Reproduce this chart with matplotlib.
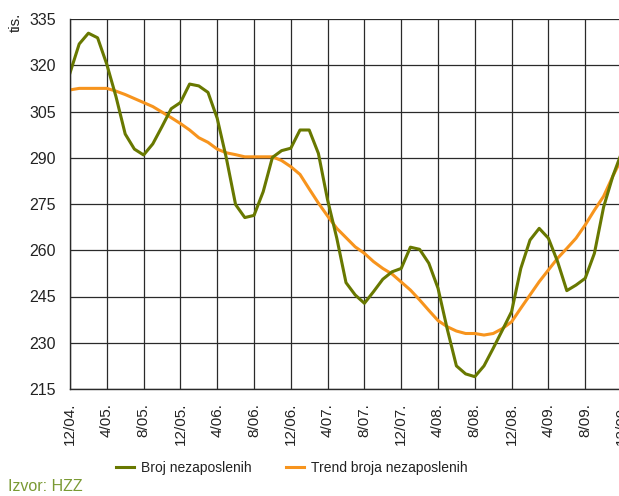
import matplotlib
matplotlib.use("Agg")
import matplotlib.pyplot as plt
from matplotlib.lines import Line2D

plt.rcParams['font.family'] = ['Liberation Sans', 'DejaVu Sans']

# monthly data, 12/2004 .. 12/2009 (thousands)
months = list(range(61))
tick_labels = ["12/04.", "4/05.", "8/05.", "12/05.", "4/06.", "8/06.", "12/06.", "4/07.",
               "8/07.", "12/07.", "4/08.", "8/08.", "12/08.", "4/09.", "8/09.", "12/09."]

broj = [317.5, 326.9, 330.4, 328.9, 320.3, 309.8, 297.7, 292.8, 290.9, 294.5,
        300.1, 305.9, 307.9, 313.9, 313.3, 311.2, 302.8, 289.8, 274.8, 270.6,
        271.3, 279.0, 290.1, 292.3, 293.1, 299.0, 299.0, 291.4, 276.3, 263.9,
        249.5, 245.5, 242.8, 246.6, 250.6, 253.0, 254.1, 261.0, 260.3, 255.8,
        247.7, 234.5, 222.5, 219.9, 219.0, 222.5, 228.2, 234.1, 240.1, 254.1,
        263.3, 267.1, 263.9, 256.3, 246.9, 248.7, 250.9, 259.0, 274.0, 284.0,
        292.0]

trend = [312.0, 312.5, 312.5, 312.5, 312.5, 311.6, 310.5, 309.2, 307.9, 306.6,
         304.8, 303.0, 301.1, 299.0, 296.5, 295.0, 292.8, 291.6, 291.0, 290.3,
         290.3, 290.3, 290.3, 289.1, 287.1, 284.6, 279.9, 275.3, 271.1, 267.1,
         264.1, 261.1, 259.0, 256.3, 254.1, 252.3, 249.7, 247.1, 243.9, 240.5,
         237.2, 235.2, 233.8, 233.0, 233.0, 232.5, 233.0, 234.6, 236.8, 241.2,
         245.5, 249.8, 253.6, 257.4, 260.6, 263.9, 268.2, 273.0, 277.5, 284.0,
         290.0]

yticks = [215, 230, 245, 260, 275, 290, 305, 320, 335]

GREEN = '#687800'
ORANGE = '#f7941d'
GRID = '#2a2a2a'
TXT = '#222222'

fig = plt.figure(figsize=(6.19, 4.96), dpi=100)
ax = fig.add_axes([70/619, 107/496, 552/619, 370/496])

ax.set_xlim(0, 60)
ax.set_ylim(215, 335)
ax.set_yticks(yticks)
ax.set_xticks(list(range(0, 61, 4)))
ax.set_xticklabels(tick_labels, rotation=90, fontsize=11, color=TXT)
ax.tick_params(axis='y', labelsize=11.5, labelcolor=TXT, length=0, pad=10)
ax.tick_params(axis='x', length=0, pad=10)

ax.grid(True, color=GRID, linewidth=0.9)
ax.set_axisbelow(True)
for s in ['left', 'bottom']:
    ax.spines[s].set_color(GRID)
    ax.spines[s].set_linewidth(1.0)
ax.spines['right'].set_visible(False)
ax.spines['top'].set_visible(False)

ax.plot(months, trend, color=ORANGE, linewidth=2.2, solid_joinstyle='round')
ax.plot(months, broj, color=GREEN, linewidth=2.2, solid_joinstyle='round')

fig.text(16/619, 1 - 13/496, 'tis.', rotation=90, fontsize=11, color=TXT,
         ha='center', va='top')

handles = [Line2D([], [], color=GREEN, linewidth=2.2),
           Line2D([], [], color=ORANGE, linewidth=2.2)]
fig.legend(handles, ['Broj nezaposlenih', 'Trend broja nezaposlenih'],
           loc='center', bbox_to_anchor=(292/619, 1 - 468/496), ncol=2,
           frameon=False, fontsize=10, handlelength=1.3, handletextpad=0.5,
           columnspacing=2.5, borderpad=0, borderaxespad=0, labelcolor=TXT)

fig.text(8/619, 1 - 491/496, 'Izvor: HZZ', fontsize=11.5, color='#7a9a34',
         ha='left', va='baseline')

fig.savefig('out.png', dpi=100)
